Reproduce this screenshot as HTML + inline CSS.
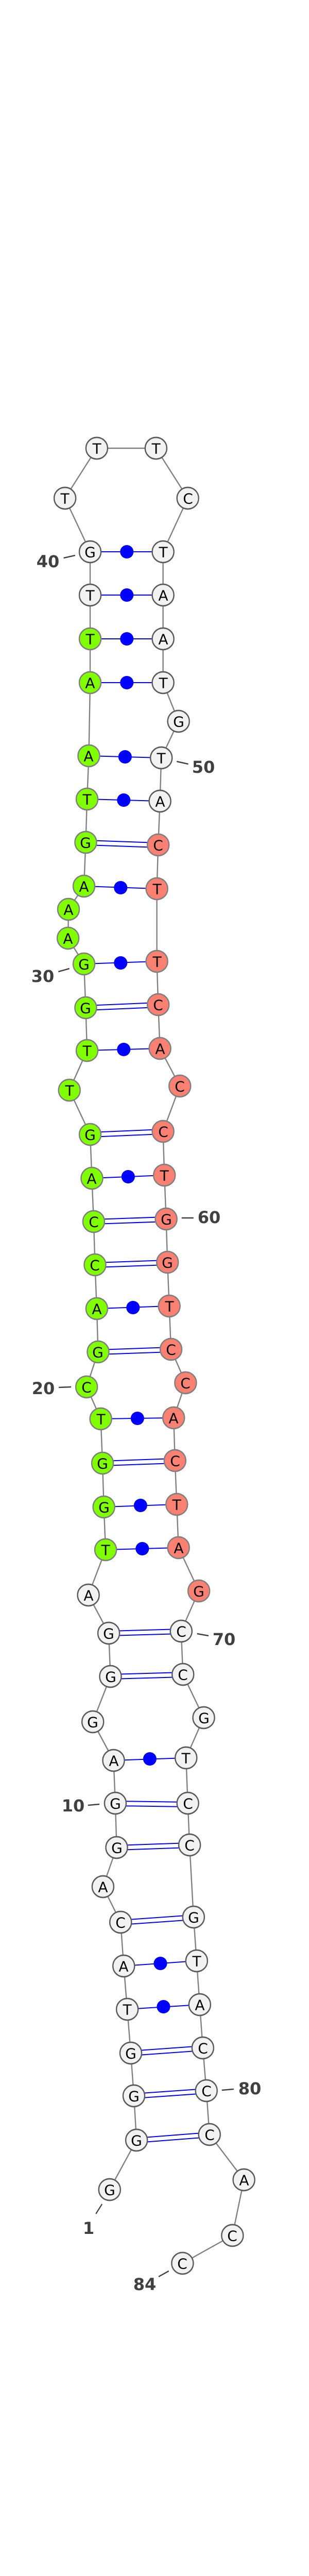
<!DOCTYPE html>
<html><head><meta charset="utf-8"><style>
html,body{margin:0;padding:0;background:#fff;overflow:hidden;width:600px;height:5282px;}
svg{display:block;}
.b{stroke:#808080;stroke-width:2.4;fill:none;}
.p{stroke:#0000ff;stroke-width:2;fill:none;}
.d{fill:#0000ff;}
.w{fill:#f2f2f2;stroke:#5a5a5a;stroke-width:2.8;}
.g{fill:#7fff00;stroke:#808080;stroke-width:2.8;}
.r{fill:#fa8072;stroke:#808080;stroke-width:2.8;}
.t{font-family:"DejaVu Sans","Liberation Sans",sans-serif;font-size:28px;fill:#000;text-anchor:middle;dominant-baseline:central;}
.n{font-family:"DejaVu Sans","Liberation Sans",sans-serif;font-size:32px;font-weight:bold;fill:#404040;text-anchor:middle;dominant-baseline:central;}
.k{stroke:#404040;stroke-width:2.5;}
</style></head><body>
<svg width="600" height="5282" viewBox="0 0 600 5282" xmlns="http://www.w3.org/2000/svg">
<g transform="scale(0.858,1)">
<polyline class="b" vector-effect="non-scaling-stroke" points="248,4250 309,4154 303,4068 296,3985 288,3900 280,3816 273,3731 233,3662 264,3586 261,3500 257,3417 210,3342 250,3254 246,3170 200,3096 239,3008 235,2925 232,2840 228,2754 196,2692 222,2624 219,2540 215,2455 212,2371 208,2287 204,2202 157,2116 197,2039 194,1956 190,1871 154,1821 155,1765 190,1720 194,1635 197,1551 201,1467 204,1325 204,1240 204,1155 204,1071 147,967 219,870 353,870 425,967 369,1071 369,1155 369,1240 369,1325 404,1400 365,1471 362,1555 358,1640 355,1725 355,1866 358,1950 362,2035 407,2108 369,2196 372,2281 376,2366 379,2450 383,2535 387,2619 420,2684 393,2752 396,2835 400,2920 404,3004 450,3088 410,3166 414,3250 461,3334 421,3412 425,3500 429,3581 438,3721 445,3806 452,3891 459,3975 467,4058 474,4143 552,4231 526,4339 413,4393"/>
<g class="p">
<line x1="204" y1="1071" x2="369" y2="1071"/><line x1="204" y1="1155" x2="369" y2="1155"/><line x1="204" y1="1240" x2="369" y2="1240"/><line x1="204" y1="1325" x2="369" y2="1325"/>
<line x1="201" y1="1467" x2="365" y2="1471"/><line x1="197" y1="1551" x2="362" y2="1555"/><line x1="190" y1="1720" x2="355" y2="1725"/><line x1="190" y1="1871" x2="355" y2="1866"/>
<line x1="197" y1="2039" x2="362" y2="2035"/><line x1="208" y1="2287" x2="372" y2="2281"/><line x1="219" y1="2540" x2="383" y2="2535"/><line x1="228" y1="2754" x2="393" y2="2752"/>
<line x1="235" y1="2925" x2="400" y2="2920"/><line x1="239" y1="3008" x2="404" y2="3004"/><line x1="257" y1="3417" x2="421" y2="3412"/><line x1="280" y1="3816" x2="445" y2="3806"/><line x1="288" y1="3900" x2="452" y2="3891"/>
</g>
<g class="d">
<ellipse cx="287" cy="1071" rx="15.2" ry="13"/><ellipse cx="287" cy="1155" rx="15.2" ry="13"/><ellipse cx="287" cy="1240" rx="15.2" ry="13"/><ellipse cx="287" cy="1325" rx="15.2" ry="13"/>
<ellipse cx="283" cy="1469" rx="15.2" ry="13"/><ellipse cx="280" cy="1553" rx="15.2" ry="13"/><ellipse cx="273" cy="1723" rx="15.2" ry="13"/><ellipse cx="273" cy="1869" rx="15.2" ry="13"/>
<ellipse cx="280" cy="2037" rx="15.2" ry="13"/><ellipse cx="290" cy="2284" rx="15.2" ry="13"/><ellipse cx="301" cy="2538" rx="15.2" ry="13"/><ellipse cx="311" cy="2753" rx="15.2" ry="13"/>
<ellipse cx="318" cy="2922" rx="15.2" ry="13"/><ellipse cx="322" cy="3006" rx="15.2" ry="13"/><ellipse cx="339" cy="3414" rx="15.2" ry="13"/><ellipse cx="363" cy="3811" rx="15.2" ry="13"/><ellipse cx="370" cy="3895" rx="15.2" ry="13"/>
</g>
<g class="p">
<line x1="194" y1="1631" x2="358" y2="1636"/><line x1="194" y1="1640" x2="358" y2="1645"/>
<line x1="194" y1="1952" x2="358" y2="1946"/><line x1="194" y1="1961" x2="358" y2="1955"/>
<line x1="204" y1="2198" x2="369" y2="2192"/><line x1="204" y1="2207" x2="369" y2="2201"/>
<line x1="212" y1="2367" x2="376" y2="2362"/><line x1="212" y1="2376" x2="376" y2="2371"/>
<line x1="215" y1="2451" x2="379" y2="2446"/><line x1="215" y1="2460" x2="379" y2="2455"/>
<line x1="222" y1="2620" x2="387" y2="2615"/><line x1="222" y1="2629" x2="387" y2="2624"/>
<line x1="232" y1="2836" x2="396" y2="2831"/><line x1="232" y1="2845" x2="396" y2="2840"/>
<line x1="246" y1="3166" x2="410" y2="3162"/><line x1="246" y1="3175" x2="410" y2="3171"/>
<line x1="250" y1="3250" x2="414" y2="3246"/><line x1="250" y1="3259" x2="414" y2="3255"/>
<line x1="261" y1="3496" x2="425" y2="3498"/><line x1="261" y1="3505" x2="425" y2="3507"/>
<line x1="264" y1="3582" x2="429" y2="3577"/><line x1="264" y1="3591" x2="429" y2="3586"/>
<line x1="273" y1="3727" x2="438" y2="3717"/><line x1="273" y1="3736" x2="438" y2="3726"/>
<line x1="296" y1="3981" x2="459" y2="3971"/><line x1="296" y1="3990" x2="459" y2="3980"/>
<line x1="303" y1="4064" x2="467" y2="4054"/><line x1="303" y1="4073" x2="467" y2="4063"/>
<line x1="309" y1="4150" x2="474" y2="4139"/><line x1="309" y1="4159" x2="474" y2="4148"/>
</g>
<g>
<ellipse class="w" cx="248" cy="4250" rx="24.5" ry="21"/>
<ellipse class="w" cx="309" cy="4154" rx="24.5" ry="21"/>
<ellipse class="w" cx="303" cy="4068" rx="24.5" ry="21"/>
<ellipse class="w" cx="296" cy="3985" rx="24.5" ry="21"/>
<ellipse class="w" cx="288" cy="3900" rx="24.5" ry="21"/>
<ellipse class="w" cx="280" cy="3816" rx="24.5" ry="21"/>
<ellipse class="w" cx="273" cy="3731" rx="24.5" ry="21"/>
<ellipse class="w" cx="233" cy="3662" rx="24.5" ry="21"/>
<ellipse class="w" cx="264" cy="3586" rx="24.5" ry="21"/>
<ellipse class="w" cx="261" cy="3500" rx="24.5" ry="21"/>
<ellipse class="w" cx="257" cy="3417" rx="24.5" ry="21"/>
<ellipse class="w" cx="210" cy="3342" rx="24.5" ry="21"/>
<ellipse class="w" cx="250" cy="3254" rx="24.5" ry="21"/>
<ellipse class="w" cx="246" cy="3170" rx="24.5" ry="21"/>
<ellipse class="w" cx="200" cy="3096" rx="24.5" ry="21"/>
<ellipse class="g" cx="239" cy="3008" rx="24.5" ry="21"/>
<ellipse class="g" cx="235" cy="2925" rx="24.5" ry="21"/>
<ellipse class="g" cx="232" cy="2840" rx="24.5" ry="21"/>
<ellipse class="g" cx="228" cy="2754" rx="24.5" ry="21"/>
<ellipse class="g" cx="196" cy="2692" rx="24.5" ry="21"/>
<ellipse class="g" cx="222" cy="2624" rx="24.5" ry="21"/>
<ellipse class="g" cx="219" cy="2540" rx="24.5" ry="21"/>
<ellipse class="g" cx="215" cy="2455" rx="24.5" ry="21"/>
<ellipse class="g" cx="212" cy="2371" rx="24.5" ry="21"/>
<ellipse class="g" cx="208" cy="2287" rx="24.5" ry="21"/>
<ellipse class="g" cx="204" cy="2202" rx="24.5" ry="21"/>
<ellipse class="g" cx="157" cy="2116" rx="24.5" ry="21"/>
<ellipse class="g" cx="197" cy="2039" rx="24.5" ry="21"/>
<ellipse class="g" cx="194" cy="1956" rx="24.5" ry="21"/>
<ellipse class="g" cx="190" cy="1871" rx="24.5" ry="21"/>
<ellipse class="g" cx="154" cy="1821" rx="24.5" ry="21"/>
<ellipse class="g" cx="155" cy="1765" rx="24.5" ry="21"/>
<ellipse class="g" cx="190" cy="1720" rx="24.5" ry="21"/>
<ellipse class="g" cx="194" cy="1635" rx="24.5" ry="21"/>
<ellipse class="g" cx="197" cy="1551" rx="24.5" ry="21"/>
<ellipse class="g" cx="201" cy="1467" rx="24.5" ry="21"/>
<ellipse class="g" cx="204" cy="1325" rx="24.5" ry="21"/>
<ellipse class="g" cx="204" cy="1240" rx="24.5" ry="21"/>
<ellipse class="w" cx="204" cy="1155" rx="24.5" ry="21"/>
<ellipse class="w" cx="204" cy="1071" rx="24.5" ry="21"/>
<ellipse class="w" cx="147" cy="967" rx="24.5" ry="21"/>
<ellipse class="w" cx="219" cy="870" rx="24.5" ry="21"/>
<ellipse class="w" cx="353" cy="870" rx="24.5" ry="21"/>
<ellipse class="w" cx="425" cy="967" rx="24.5" ry="21"/>
<ellipse class="w" cx="369" cy="1071" rx="24.5" ry="21"/>
<ellipse class="w" cx="369" cy="1155" rx="24.5" ry="21"/>
<ellipse class="w" cx="369" cy="1240" rx="24.5" ry="21"/>
<ellipse class="w" cx="369" cy="1325" rx="24.5" ry="21"/>
<ellipse class="w" cx="404" cy="1400" rx="24.5" ry="21"/>
<ellipse class="w" cx="365" cy="1471" rx="24.5" ry="21"/>
<ellipse class="w" cx="362" cy="1555" rx="24.5" ry="21"/>
<ellipse class="r" cx="358" cy="1640" rx="24.5" ry="21"/>
<ellipse class="r" cx="355" cy="1725" rx="24.5" ry="21"/>
<ellipse class="r" cx="355" cy="1866" rx="24.5" ry="21"/>
<ellipse class="r" cx="358" cy="1950" rx="24.5" ry="21"/>
<ellipse class="r" cx="362" cy="2035" rx="24.5" ry="21"/>
<ellipse class="r" cx="407" cy="2108" rx="24.5" ry="21"/>
<ellipse class="r" cx="369" cy="2196" rx="24.5" ry="21"/>
<ellipse class="r" cx="372" cy="2281" rx="24.5" ry="21"/>
<ellipse class="r" cx="376" cy="2366" rx="24.5" ry="21"/>
<ellipse class="r" cx="379" cy="2450" rx="24.5" ry="21"/>
<ellipse class="r" cx="383" cy="2535" rx="24.5" ry="21"/>
<ellipse class="r" cx="387" cy="2619" rx="24.5" ry="21"/>
<ellipse class="r" cx="420" cy="2684" rx="24.5" ry="21"/>
<ellipse class="r" cx="393" cy="2752" rx="24.5" ry="21"/>
<ellipse class="r" cx="396" cy="2835" rx="24.5" ry="21"/>
<ellipse class="r" cx="400" cy="2920" rx="24.5" ry="21"/>
<ellipse class="r" cx="404" cy="3004" rx="24.5" ry="21"/>
<ellipse class="r" cx="450" cy="3088" rx="24.5" ry="21"/>
<ellipse class="w" cx="410" cy="3166" rx="24.5" ry="21"/>
<ellipse class="w" cx="414" cy="3250" rx="24.5" ry="21"/>
<ellipse class="w" cx="461" cy="3334" rx="24.5" ry="21"/>
<ellipse class="w" cx="421" cy="3412" rx="24.5" ry="21"/>
<ellipse class="w" cx="425" cy="3500" rx="24.5" ry="21"/>
<ellipse class="w" cx="429" cy="3581" rx="24.5" ry="21"/>
<ellipse class="w" cx="438" cy="3721" rx="24.5" ry="21"/>
<ellipse class="w" cx="445" cy="3806" rx="24.5" ry="21"/>
<ellipse class="w" cx="452" cy="3891" rx="24.5" ry="21"/>
<ellipse class="w" cx="459" cy="3975" rx="24.5" ry="21"/>
<ellipse class="w" cx="467" cy="4058" rx="24.5" ry="21"/>
<ellipse class="w" cx="474" cy="4143" rx="24.5" ry="21"/>
<ellipse class="w" cx="552" cy="4231" rx="24.5" ry="21"/>
<ellipse class="w" cx="526" cy="4339" rx="24.5" ry="21"/>
<ellipse class="w" cx="413" cy="4393" rx="24.5" ry="21"/>
</g>
<g class="k">
<line x1="144" y1="1083" x2="170" y2="1078"/>
<line x1="400" y1="1478" x2="426" y2="1483"/>
<line x1="132" y1="1886" x2="157" y2="1880"/>
<line x1="411" y1="2364" x2="438" y2="2364"/>
<line x1="133" y1="2693" x2="161" y2="2692"/>
<line x1="446" y1="3171" x2="472" y2="3175"/>
<line x1="199" y1="3504" x2="225" y2="3502"/>
<line x1="502" y1="4057" x2="529" y2="4055"/>
<line x1="231" y1="4278" x2="217" y2="4297"/>
<line x1="382" y1="4408" x2="359" y2="4419"/>
</g>
</g>
<g class="t">
<text x="213" y="4251">G</text><text x="265" y="4155">G</text><text x="260" y="4069">G</text><text x="254" y="3986">G</text>
<text x="247" y="3901">T</text><text x="240" y="3817">A</text><text x="234" y="3732">C</text><text x="200" y="3663">A</text>
<text x="227" y="3587">G</text><text x="224" y="3501">G</text><text x="221" y="3418">A</text><text x="180" y="3343">G</text>
<text x="215" y="3255">G</text><text x="211" y="3171">G</text><text x="172" y="3097">A</text><text x="205" y="3009">T</text>
<text x="202" y="2926">G</text><text x="199" y="2841">G</text><text x="196" y="2755">T</text><text x="168" y="2693">C</text>
<text x="190" y="2625">G</text><text x="188" y="2541">A</text><text x="184" y="2456">C</text><text x="182" y="2372">C</text>
<text x="178" y="2288">A</text><text x="175" y="2203">G</text><text x="135" y="2117">T</text><text x="169" y="2040">T</text>
<text x="166" y="1957">G</text><text x="163" y="1872">G</text><text x="132" y="1822">A</text><text x="133" y="1766">A</text>
<text x="163" y="1721">A</text><text x="166" y="1636">G</text><text x="169" y="1552">T</text><text x="172" y="1468">A</text>
<text x="175" y="1326">A</text><text x="175" y="1241">T</text><text x="175" y="1156">T</text><text x="175" y="1072">G</text>
<text x="126" y="968">T</text><text x="188" y="871">T</text><text x="303" y="871">T</text><text x="365" y="968">C</text>
<text x="317" y="1072">T</text><text x="317" y="1156">A</text><text x="317" y="1241">A</text><text x="317" y="1326">T</text>
<text x="347" y="1401">G</text><text x="313" y="1472">T</text><text x="311" y="1556">A</text><text x="307" y="1641">C</text>
<text x="305" y="1726">T</text><text x="305" y="1867">T</text><text x="307" y="1951">C</text><text x="311" y="2036">A</text>
<text x="349" y="2109">C</text><text x="317" y="2197">C</text><text x="319" y="2282">T</text><text x="323" y="2367">G</text>
<text x="325" y="2451">G</text><text x="329" y="2536">T</text><text x="332" y="2620">C</text><text x="360" y="2685">C</text>
<text x="337" y="2753">A</text><text x="340" y="2836">C</text><text x="343" y="2921">T</text><text x="347" y="3005">A</text>
<text x="386" y="3089">G</text><text x="352" y="3167">C</text><text x="355" y="3251">C</text><text x="396" y="3335">G</text>
<text x="361" y="3413">T</text><text x="365" y="3501">C</text><text x="368" y="3582">C</text><text x="376" y="3722">G</text>
<text x="382" y="3807">T</text><text x="388" y="3892">A</text><text x="394" y="3976">C</text><text x="401" y="4059">C</text>
<text x="407" y="4144">C</text><text x="474" y="4232">A</text><text x="451" y="4340">C</text><text x="354" y="4394">C</text>
</g>
<text class="n" x="93" y="1090">40</text>
<text class="n" x="395" y="1489">50</text>
<text class="n" x="83" y="1895">30</text>
<text class="n" x="406" y="2363">60</text>
<text class="n" x="84" y="2695">20</text>
<text class="n" x="435" y="3182">70</text>
<text class="n" x="142" y="3505">10</text>
<text class="n" x="485" y="4054">80</text>
<text class="n" x="172" y="4325">1</text>
<text class="n" x="281" y="4434">84</text>
<text x="300" y="5270" font-family="'DejaVu Sans','Liberation Sans',sans-serif" font-size="10" font-weight="bold" fill="#000" text-anchor="middle" dominant-baseline="central">eca-mir-412_annot [-36.9]</text>
</svg>
</body></html>
